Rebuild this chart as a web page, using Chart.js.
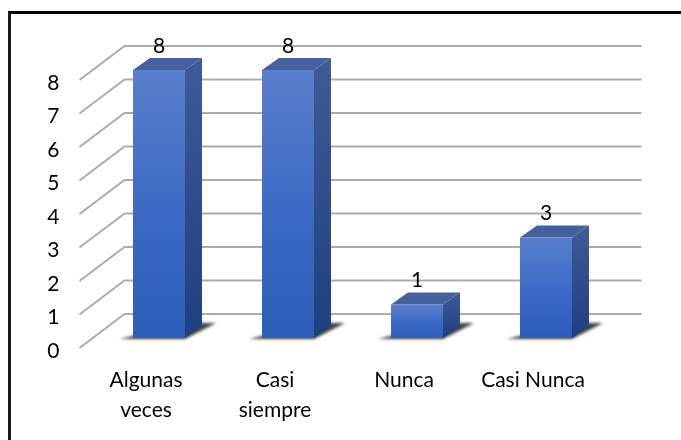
<!DOCTYPE html>
<html>
<head>
<meta charset="utf-8">
<style>
  html, body { margin: 0; padding: 0; background: #fff; }
  #wrap { position: relative; width: 681px; height: 440px; overflow: hidden; }
  #frame { position: absolute; left: 8px; top: 11px; width: 673px; height: 429px; border-left: 3px solid #1a1a1a; border-top: 3px solid #000; box-sizing: border-box; pointer-events: none; }
</style>
<script src="https://cdn.jsdelivr.net/npm/chart.js@4"></script>
</head>
<body>
<div id="wrap">
  <canvas id="chart" width="681" height="440"></canvas>
  <div id="frame"></div>
</div>
<script>
const categories = [["Algunas", "veces"], ["Casi", "siempre"], "Nunca", "Casi Nunca"];
const values = [8, 8, 1, 3];
const yTicks = [0, 1, 2, 3, 4, 5, 6, 7, 8];

const FONT = "Lato, Carlito, sans-serif";
const barDepth = { dx: 17, dy: 12 };
const wallDepth = { dx: 45, dy: 34, front: 10, rightExtra: 31 };

// Back wall lines and the diagonal floor/side lines of the 3D box.
const wallPlugin = {
  id: "wall",
  beforeDatasetsDraw(chart) {
    const { ctx, scales: { x, y } } = chart;
    ctx.save();
    ctx.strokeStyle = "#ababab";
    ctx.lineWidth = 2;
    yTicks.forEach(v => {
      const fy = y.getPixelForValue(v) + wallDepth.front;
      const bx = x.left + 30;
      const by = fy - wallDepth.dy;
      ctx.beginPath();
      ctx.moveTo(bx - wallDepth.dx, fy);
      ctx.lineTo(bx, by);
      ctx.lineTo(x.right + wallDepth.rightExtra, by);
      ctx.stroke();
    });
    ctx.restore();
  }
};

// Shadow, side face and top face of each bar, taken from the bar element's geometry.
const bar3dPlugin = {
  id: "bar3d",
  beforeDatasetDraw(chart) {
    const { ctx } = chart;
    const { dx, dy } = barDepth;
    chart.getDatasetMeta(0).data.forEach(bar => {
      const l = bar.x - bar.width / 2, r = bar.x + bar.width / 2;
      ctx.save();
      ctx.filter = "blur(1.5px)";
      ctx.fillStyle = "rgba(30,30,30,0.85)";
      ctx.beginPath();
      ctx.moveTo(l - 13, bar.base + 1);
      ctx.lineTo(r, bar.base + 1);
      ctx.lineTo(r + dx + 14, bar.base - dy - 3);
      ctx.lineTo(r, bar.base - dy - 3);
      ctx.closePath();
      ctx.fill();
      ctx.restore();

      const side = ctx.createLinearGradient(0, bar.y - dy, 0, bar.base);
      side.addColorStop(0, "#3f5b97");
      side.addColorStop(1, "#1e3f80");
      ctx.fillStyle = side;
      ctx.beginPath();
      ctx.moveTo(r, bar.y);
      ctx.lineTo(r + dx, bar.y - dy);
      ctx.lineTo(r + dx, bar.base - dy);
      ctx.lineTo(r, bar.base);
      ctx.closePath();
      ctx.fill();

      ctx.fillStyle = "#45609c";
      ctx.beginPath();
      ctx.moveTo(l, bar.y);
      ctx.lineTo(l + dx, bar.y - dy);
      ctx.lineTo(r + dx, bar.y - dy);
      ctx.lineTo(r, bar.y);
      ctx.closePath();
      ctx.fill();
    });
  },
  afterDatasetsDraw(chart) {
    const { ctx } = chart;
    ctx.save();
    ctx.fillStyle = "#000";
    ctx.font = "21px " + FONT;
    ctx.textAlign = "center";
    ctx.textBaseline = "middle";
    chart.getDatasetMeta(0).data.forEach((bar, i) => {
      ctx.fillText(String(values[i]), bar.x, bar.y - 24);
    });
    ctx.restore();
  }
};

new Chart(document.getElementById("chart"), {
  type: "bar",
  data: {
    labels: categories,
    datasets: [{
      data: values,
      backgroundColor(c) {
        const { chart } = c;
        const bar = chart.getDatasetMeta(0).data[c.dataIndex];
        if (!bar || !chart.chartArea) return "#3c6ac4";
        const top = chart.scales.y.getPixelForValue(values[c.dataIndex]);
        const g = chart.ctx.createLinearGradient(0, top, 0, chart.scales.y.getPixelForValue(0));
        g.addColorStop(0, "#5a7fcb");
        g.addColorStop(0.55, "#3a69c4");
        g.addColorStop(1, "#2c5eb8");
        return g;
      },
      borderWidth: 0,
      barPercentage: 0.403,
      categoryPercentage: 1
    }]
  },
  plugins: [wallPlugin, bar3dPlugin],
  options: {
    responsive: false,
    animation: false,
    events: [],
    layout: { padding: { top: 70, right: 70.5, left: 0, bottom: 0 } },
    plugins: { legend: { display: false }, tooltip: { enabled: false } },
    scales: {
      x: {
        grid: { display: false, drawTicks: false },
        border: { display: false },
        afterFit(s) { s.height = 102; },
        ticks: { color: "#000", font: { family: FONT, size: 21, lineHeight: 1.43 }, padding: 27, labelOffset: -13, maxRotation: 0, autoSkip: false }
      },
      y: {
        min: 0,
        max: 8,
        grid: { display: false, drawTicks: false },
        border: { display: false },
        afterFit(s) { s.width = 94.5; },
        ticks: { color: "#000", font: { family: FONT, size: 21 }, stepSize: 1, padding: 35, labelOffset: 13 }
      }
    }
  }
});
</script>
</body>
</html>
